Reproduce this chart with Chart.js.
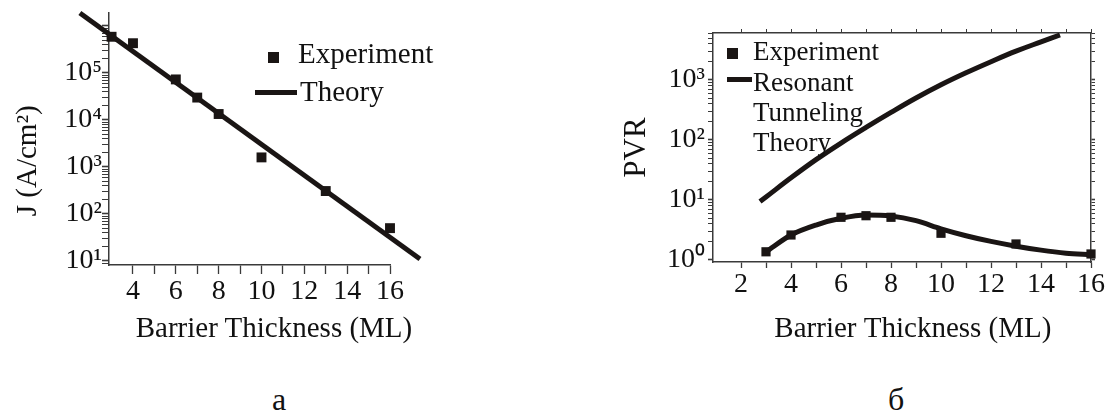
<!DOCTYPE html>
<html>
<head>
<meta charset="utf-8">
<script src="https://cdn.jsdelivr.net/npm/chart.js@4.4.0/dist/chart.umd.min.js"></script>
<style>
  body { margin: 0; background: #fff; width: 1112px; height: 419px; position: relative; overflow: hidden;
         font-family: 'Liberation Serif', 'Times New Roman', serif; color: #111; }
  .box { position: absolute; }
  .txt { position: absolute; white-space: nowrap; }
  .sq { position: absolute; background: #1a1514; }
  .ln { position: absolute; background: #1a1514; }
</style>
</head>
<body>
<div class="box" id="leftBox" style="left:0;top:0;width:440px;height:360px"><canvas id="chartJ"></canvas></div>
<div class="box" id="rightBox" style="left:600px;top:0;width:512px;height:360px"><canvas id="chartPVR"></canvas></div>

<!-- x title of panel a -->
<div class="txt" style="left:274px;top:313px;font-size:29px;line-height:29px;transform:translateX(-50%)">Barrier Thickness (ML)</div>

<!-- legend a -->
<div class="sq" style="left:268px;top:52px;width:11px;height:11px"></div>
<div class="txt" style="left:298px;top:39px;font-size:29px;line-height:29px">Experiment</div>
<div class="ln" style="left:255px;top:90px;width:42px;height:5px"></div>
<div class="txt" style="left:300px;top:77px;font-size:29px;line-height:29px">Theory</div>

<!-- legend б -->
<div class="sq" style="left:727px;top:48px;width:11px;height:11px"></div>
<div class="txt" style="left:753px;top:38px;font-size:27px;line-height:27px">Experiment</div>
<div class="ln" style="left:727px;top:77px;width:25px;height:5px"></div>
<div class="txt" style="left:753px;top:69px;font-size:27px;line-height:27px">Resonant</div>
<div class="txt" style="left:753px;top:99px;font-size:27px;line-height:27px">Tunneling</div>
<div class="txt" style="left:753px;top:129px;font-size:27px;line-height:27px">Theory</div>

<div class="txt" style="left:272px;top:383px;font-size:32px;line-height:32px">а</div>
<div class="txt" style="left:888px;top:383px;font-size:32px;line-height:32px">б</div>

<script>
// panel a: current density
const jX = [3, 4, 6, 7, 8, 10, 13, 16];
const jExp = [5.9e5, 4.3e5, 7.3e4, 3.0e4, 1.34e4, 1600, 308, 50];
const jTheoryX = [1.52, 17.4];
const jTheory = [1.89e6, 11.0];
const jXTicks = [4, 5, 6, 7, 8, 9, 10, 11, 12, 13, 14, 15, 16];
const jXLabels = ['4', '', '6', '', '8', '', '10', '', '12', '', '14', '', '16'];
const jYTicks = [10, 100, 1000, 10000, 100000];
const jYLabels = ['10¹', '10²', '10³', '10⁴', '10⁵'];

// panel б: peak-to-valley ratio
const pvrX = [3, 4, 6, 7, 8, 10, 13, 16];
const pvrExp = [1.37, 2.61, 5.15, 5.47, 5.15, 2.79, 1.85, 1.26];
const fitX = [3, 4, 5, 6, 7, 8, 9, 10, 11, 12, 13, 14, 15, 16];
const fitY = [1.37, 2.61, 3.83, 4.95, 5.62, 5.41, 4.52, 3.31, 2.54, 2.04, 1.70, 1.46, 1.30, 1.22];
const rtX = [2.76, 3, 4, 5, 6, 7, 8, 9, 10, 11, 12, 13, 14, 14.76];
const rtY = [9.4, 11.2, 23.4, 47, 89, 162, 288, 501, 832, 1318, 2018, 3020, 4315, 5620];
const pXTicks = [2, 3, 4, 5, 6, 7, 8, 9, 10, 11, 12, 13, 14, 15, 16];
const pXLabels = ['2', '', '4', '', '6', '', '8', '', '10', '', '12', '', '14', '', '16'];
const pYTicks = [1, 10, 100, 1000];
const pYLabels = ['10⁰', '10¹', '10²', '10³'];

const ink = '#1a1514';
const axisCol = '#3a3a3a';
const serif = "'Liberation Serif', 'Times New Roman', serif";

const pts = (xs, ys) => xs.map((x, i) => ({x: x, y: ys[i]}));

function logTicks(lo, hi, min, max) {
  const t = [];
  for (let e = lo; e <= hi; e++)
    for (let m = 1; m < 10; m++) {
      const v = m * Math.pow(10, e);
      if (v >= min && v <= max) t.push(v);
    }
  return t;
}
function labelFor(vals, labels, v) {
  const i = vals.findIndex(t => Math.abs(t - v) < t * 1e-9);
  return i >= 0 ? labels[i] : '';
}
const isDecade = v => Math.abs(Math.log10(v) - Math.round(Math.log10(v))) < 1e-9;

// ---- chart a ----
const jMin = 8.22, jMax = 1.89e6;
new Chart(document.getElementById('chartJ'), {
  type: 'line',
  data: {
    datasets: [{
      label: 'Experiment',
      data: pts(jX, jExp),
      showLine: false,
      pointStyle: 'rect',
      pointRadius: 7,
      backgroundColor: ink,
      borderColor: ink,
      borderWidth: 0,
      clip: false
    }, {
      label: 'Theory',
      data: pts(jTheoryX, jTheory),
      borderColor: ink,
      borderWidth: 5,
      pointRadius: 0,
      clip: false
    }]
  },
  options: {
    animation: false,
    responsive: true,
    maintainAspectRatio: false,
    devicePixelRatio: 1,
    layout: {padding: {top: 13, right: 50, left: 0, bottom: 0}},
    plugins: {legend: {display: false}, tooltip: {enabled: false}},
    scales: {
      x: {
        type: 'linear', min: 2.88, max: 16,
        afterBuildTicks: s => { s.ticks = jXTicks.map(v => ({value: v})); },
        afterFit: s => { s.height = 95; },
        ticks: {autoSkip: false, maxRotation: 0, padding: 1, color: '#111',
                font: {family: serif, size: 28}, callback: (v, i) => jXLabels[i]},
        grid: {drawOnChartArea: false, tickLength: 9, tickColor: axisCol, tickWidth: 1.3},
        border: {color: axisCol, width: 1.5}
      },
      y: {
        type: 'logarithmic', min: jMin, max: jMax,
        afterBuildTicks: s => { s.ticks = logTicks(0, 6, jMin, jMax).map(v => ({value: v})); },
        afterFit: s => { s.width = 109; },
        ticks: {autoSkip: false, padding: 0, color: '#111',
                font: {family: serif, size: 28, lineHeight: 0.8},
                callback: v => labelFor(jYTicks, jYLabels, v)},
        grid: {drawOnChartArea: false, tickLength: 7, tickColor: axisCol,
               tickWidth: c => (c.tick && isDecade(c.tick.value)) ? 1.6 : 1},
        border: {color: axisCol, width: 1.5},
        title: {display: true, text: 'J (A/cm²)      ', color: '#111',
                font: {family: serif, size: 29}, padding: {top: 11, bottom: 0}}
      }
    }
  }
});

// ---- chart б ----
const pMin = 0.926, pMax = 6070, pxMin = 0.88, pxMax = 16;
const pvrYTicks = logTicks(0, 3, pMin, pMax);
new Chart(document.getElementById('chartPVR'), {
  type: 'line',
  data: {
    datasets: [{
      label: 'Experiment',
      data: pts(pvrX, pvrExp),
      showLine: false,
      pointStyle: 'rect',
      pointRadius: 6.5,
      backgroundColor: ink,
      borderColor: ink,
      borderWidth: 0,
      clip: false
    }, {
      label: 'Fit',
      data: pts(fitX, fitY),
      borderColor: ink,
      borderWidth: 5,
      pointRadius: 0,
      cubicInterpolationMode: 'monotone',
      clip: false
    }, {
      label: 'Resonant Tunneling Theory',
      data: pts(rtX, rtY),
      borderColor: ink,
      borderWidth: 5,
      pointRadius: 0,
      tension: 0.4
    }]
  },
  options: {
    animation: false,
    responsive: true,
    maintainAspectRatio: false,
    devicePixelRatio: 1,
    layout: {padding: {top: 28, right: 16, left: 0, bottom: 0}},
    plugins: {legend: {display: false}, tooltip: {enabled: false}},
    scales: {
      x: {
        type: 'linear', min: pxMin, max: pxMax,
        afterBuildTicks: s => { s.ticks = pXTicks.map(v => ({value: v})); },
        afterFit: s => { s.height = 98; },
        ticks: {autoSkip: false, maxRotation: 0, padding: 3, color: '#111',
                font: {family: serif, size: 28, lineHeight: 1.0}, callback: (v, i) => pXLabels[i]},
        grid: {drawOnChartArea: false, tickLength: 6, tickColor: axisCol, tickWidth: 1.3},
        border: {color: axisCol, width: 1.5},
        title: {display: true, text: '   Barrier Thickness (ML)', color: '#111',
                font: {family: serif, size: 29}, padding: {top: 4, bottom: 13}}
      },
      x2: {
        type: 'linear', position: 'top', min: pxMin, max: pxMax,
        afterBuildTicks: s => { s.ticks = pXTicks.map(v => ({value: v})); },
        afterFit: s => { s.height = 5; },
        ticks: {display: false},
        grid: {drawOnChartArea: false, tickLength: 4, tickColor: axisCol, tickWidth: 1},
        border: {color: axisCol, width: 1.5}
      },
      y: {
        type: 'logarithmic', min: pMin, max: pMax,
        afterBuildTicks: s => { s.ticks = pvrYTicks.map(v => ({value: v})); },
        afterFit: s => { s.width = 113; },
        ticks: {autoSkip: false, padding: 3, color: '#111',
                font: {family: serif, size: 28, lineHeight: 0.8},
                callback: v => labelFor(pYTicks, pYLabels, v)},
        grid: {drawOnChartArea: false, tickLength: 5, tickColor: axisCol,
               tickWidth: c => (c.tick && isDecade(c.tick.value)) ? 1.6 : 1},
        border: {color: axisCol, width: 1.5},
        title: {display: true, text: 'PVR', color: '#111',
                font: {family: serif, size: 31}, padding: {top: 18, bottom: 0}}
      },
      y2: {
        type: 'logarithmic', position: 'right', min: pMin, max: pMax,
        afterBuildTicks: s => { s.ticks = pvrYTicks.map(v => ({value: v})); },
        afterFit: s => { s.width = 5; },
        ticks: {display: false},
        grid: {drawOnChartArea: false, tickLength: 4, tickColor: axisCol,
               tickWidth: c => (c.tick && isDecade(c.tick.value)) ? 1.6 : 1},
        border: {color: axisCol, width: 1.5}
      }
    }
  }
});
</script>
</body>
</html>
